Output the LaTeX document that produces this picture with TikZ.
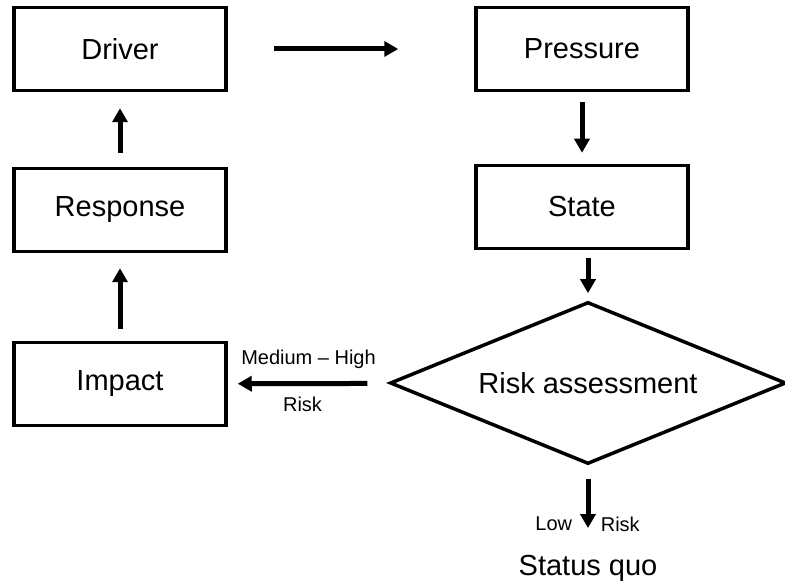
\documentclass[tikz,border=0pt]{standalone}
\usepackage{fontspec}
\setmainfont{Liberation Sans}
\usetikzlibrary{positioning,shapes.geometric,arrows.meta}

\begin{document}
\begin{tikzpicture}[->,>={Triangle[length=14pt,width=15pt]},line width=5pt,node distance=462pt,
    box node/.style={rectangle,draw,line width=3.5pt,minimum width=212pt,minimum height=83pt,font=\fontsize{29}{34}\selectfont},
    risk node/.style={diamond,draw,line width=3.5pt,aspect=2.44,minimum width=396pt,minimum height=162pt,inner sep=0pt,font=\fontsize{29}{34}\selectfont},
    text node/.style={font=\fontsize{29}{34}\selectfont},
    label node/.style={font=\fontsize{20}{24}\selectfont}]
                    \useasboundingbox (0pt,0pt) rectangle (785pt,583pt);

                    \node[box node] (driver) at (120pt,534pt) {Driver};
                    \node[box node] (pressure) [right of = driver]{Pressure};
                    \node[box node] (state) [below of = pressure, node distance = 158pt]{State};
                    \node[risk node] (risk) [below of = state, node distance = 176pt, xshift = 6pt]{Risk assessment};
                    \node[text node] (status) [below of = risk, node distance = 185pt]{Status quo};

                    \node[box node] (response) [below of = driver, node distance = 161pt]{Response};
                    \node[box node] (impact) [below of = response, node distance = 174pt]{Impact};

                    \coordinate (state out) at (state.south -| risk);

                    \path[every node/.style={label node}]
                        (driver) edge[shorten <=46pt, shorten >=76pt] (pressure)
                        (pressure) edge[shorten <=10pt, shorten >=11pt] (state)
                        (state out) edge[shorten <=8pt, shorten >=7pt] (risk.north)

                        (risk) edge[shorten <=22pt, shorten >=10pt]
                            node[above=9pt]{Medium -- High}
                            node[below=8pt, xshift=-6pt]{Risk} (impact)
                        (risk) edge[shorten <=13pt, shorten >=21pt]
                            node[pos=0.70, left=10pt]{Low}
                            node[pos=0.70, right=7pt]{Risk} (status)

                        (impact) edge[shorten <=12pt, shorten >=15pt] (response)
                        (response) edge[shorten <=14pt, shorten >=16pt] (driver)
                        ;
                \end{tikzpicture}
\end{document}
